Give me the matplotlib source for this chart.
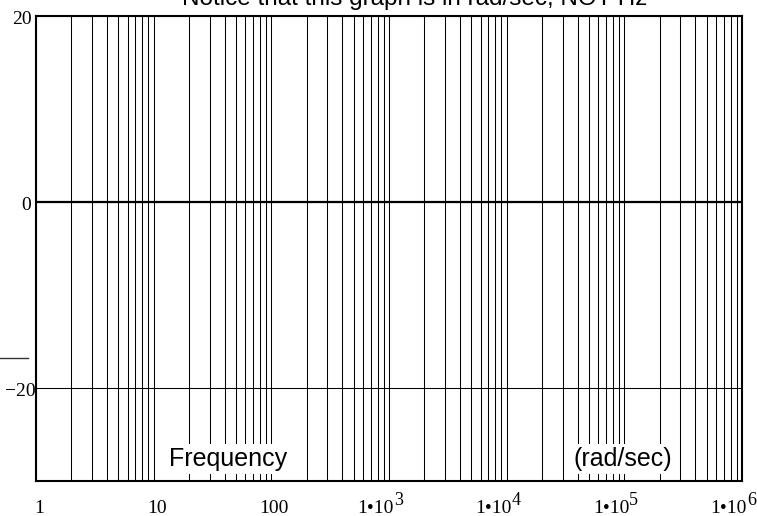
import matplotlib.pyplot as plt
from matplotlib.lines import Line2D
from matplotlib.ticker import LogLocator, FixedLocator, NullFormatter
from matplotlib.transforms import blended_transform_factory, offset_copy

# axis ranges and ticks
x_limits = [1, 1e6]
y_limits = [-30, 20]
x_ticks = [1, 10, 100, 1e3, 1e4, 1e5, 1e6]
x_tick_main = ['1', '10', '100', '1•10', '1•10', '1•10', '1•10']
x_tick_exp = ['', '', '', '3', '4', '5', '6']
y_ticks = [-20, 0, 20]
y_tick_labels = ['\u221220', '0', '20']
zero_level = 0

title_text = 'Notice that this graph is in rad/sec, NOT Hz'
freq_label = 'Frequency'
unit_label = '(rad/sec)'
freq_label_pos = (43, -28.4)
unit_label_pos = (98000, -28.4)

fig = plt.figure(figsize=(7.57, 5.16), dpi=100)
ax = fig.add_axes([36 / 757, 1 - 481 / 516, 706 / 757, 465 / 516])

ax.set_xscale('log')
ax.set_xlim(x_limits)
ax.set_ylim(y_limits)

ax.xaxis.set_major_locator(FixedLocator(x_ticks))
ax.xaxis.set_minor_locator(LogLocator(base=10, subs=range(2, 10)))
ax.xaxis.set_minor_formatter(NullFormatter())
ax.set_xticklabels([])
ax.set_yticks(y_ticks)
ax.set_yticklabels([])
ax.tick_params(which='both', length=0)

ax.grid(True, which='both', axis='x', color='black', linewidth=0.75)
ax.grid(True, which='major', axis='y', color='black', linewidth=0.75)
ax.axhline(zero_level, color='black', linewidth=1.6, zorder=3)

for sp in ax.spines.values():
    sp.set_linewidth(1.5)
    sp.set_zorder(4)

# x tick labels, drawn by hand so the exponent sits like the original
serif = dict(fontfamily='Liberation Serif', fontsize=14)
xtr = blended_transform_factory(ax.transData, fig.transFigure)
base_y = 1 - 513 / 516
for xv, main, ex in zip(x_ticks, x_tick_main, x_tick_exp):
    if ex:
        ax.text(xv, base_y, main, ha='right', va='baseline', clip_on=False,
                transform=offset_copy(xtr, fig=fig, x=5, y=0, units='dots'), **serif)
        ax.text(xv, base_y, ex, ha='left', va='baseline', clip_on=False,
                transform=offset_copy(xtr, fig=fig, x=5, y=8, units='dots'),
                fontfamily='Liberation Serif', fontsize=13)
    else:
        ax.text(xv, base_y, main, ha='center', va='baseline', clip_on=False,
                transform=offset_copy(xtr, fig=fig, x=3, y=0, units='dots'), **serif)

# y tick labels
ytr = blended_transform_factory(fig.transFigure, ax.transData)
y_right = {'20': 32, '0': 31, '\u221220': 36}
for yv, lab in zip(y_ticks, y_tick_labels):
    ax.text(y_right[lab] / 757, yv, lab, ha='right', va='center_baseline', clip_on=False,
            transform=offset_copy(ytr, fig=fig, x=0, y=-2, units='dots'), **serif)

box = dict(facecolor='white', edgecolor='none', pad=2)
ax.text(freq_label_pos[0], freq_label_pos[1], freq_label, ha='center', va='baseline',
        fontfamily='Liberation Sans', fontsize=18, bbox=box, zorder=5)
ax.text(unit_label_pos[0], unit_label_pos[1], unit_label, ha='center', va='baseline',
        fontfamily='Liberation Sans', fontsize=18, bbox=box, zorder=5)

fig.text(415 / 757, 1 - 4.5 / 516, title_text, ha='center', va='baseline',
         fontfamily='Liberation Sans', fontsize=17.5)

# leftover y-axis label stroke at the left edge
fig.add_artist(Line2D([0, 28 / 757], [1 - 358 / 516, 1 - 358 / 516],
                      color='#333333', linewidth=1.0))

fig.savefig('out.png', dpi=100)
